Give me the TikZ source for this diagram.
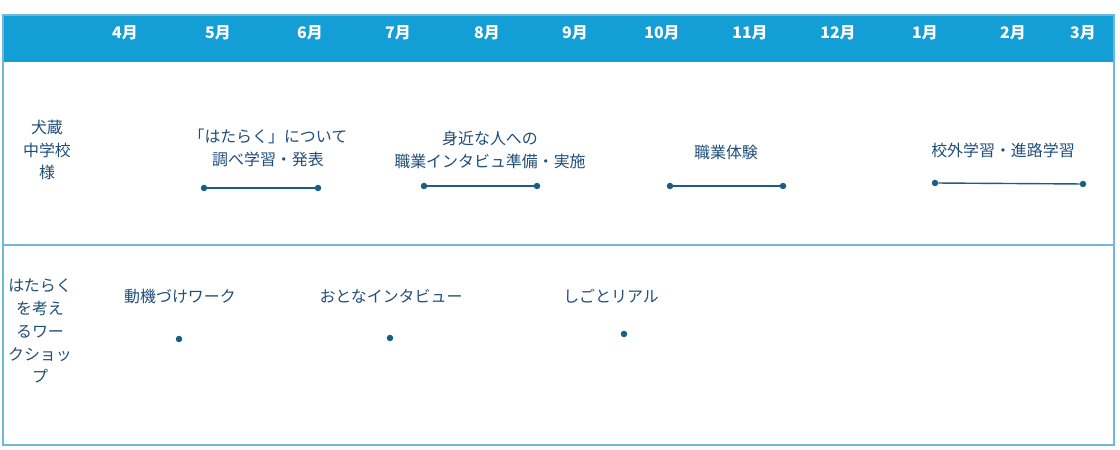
\documentclass[tikz,border=0pt]{standalone}
\usepackage{fontspec}
\setmainfont{Noto Sans CJK JP}
\usetikzlibrary{positioning}
\definecolor{headblue}{HTML}{149ED6}
\definecolor{rule}{HTML}{6FB8DC}
\definecolor{ink}{HTML}{1F4E79}
\definecolor{dotc}{HTML}{1B5E85}
\begin{document}
\begin{tikzpicture}[x=1bp,y=-1bp,
  month/.style={text=white,font=\fontsize{16}{18}\selectfont\bfseries},
  label/.style={text=ink,font=\fontsize{16}{23}\selectfont,align=center,inner sep=0pt},
  pt/.style={circle,fill=dotc,inner sep=0pt,minimum size=6.5bp},
  span/.style={dotc,line width=1.4bp}]
\useasboundingbox (0,0) rectangle (1120,450);
\fill[headblue] (3,15) rectangle (1114,62);
\draw[rule,line width=1.2bp] (3,15) rectangle (1114,445);
\draw[rule,line width=1.2bp] (3,245) -- (1114,245);
\foreach \m/\x in {4月/125,5月/218,6月/310,7月/398,8月/487,9月/575,10月/662,11月/750,12月/838,1月/925,2月/1013,3月/1083}
  \node[month] at (\x,33) {\m};
% row 1
\node[label] (school) at (47,150) {犬蔵\\中学校\\様};
\node[label] (t1) at (268,148) {「はたらく」について\\調べ学習・発表};
\node[label] (t2) at (490,150) {身近な人への\\職業インタビュ準備・実施};
\node[label] (t3) at (726,152) {職業体験};
\node[label] (t4) at (1003,150) {校外学習・進路学習};
\node[pt] (a1) at (204,188) {}; \node[pt] (b1) at (318,188) {};
\node[pt] (a2) at (424,186) {}; \node[pt] (b2) at (537,186) {};
\node[pt] (a3) at (670,186) {}; \node[pt] (b3) at (783,186) {};
\node[pt] (a4) at (935,183) {}; \node[pt] (b4) at (1083,184) {};
\draw[span] (a1) -- (b1);
\draw[span] (a2) -- (b2);
\draw[span] (a3) -- (b3);
\draw[span] (a4) -- (b4);
% row 2
\node[label] (ws) at (40,331) {はたらく\\を考え\\るワー\\クショッ\\プ};
\node[label] (w1) at (180,296) {動機づけワーク};
\node[label] (w2) at (391,296) {おとなインタビュー};
\node[label] (w3) at (611,296) {しごとリアル};
\node[pt] (d1) at (179,339) {};
\node[pt] (d2) at (390,338) {};
\node[pt] (d3) at (624,334) {};
\end{tikzpicture}
\end{document}
